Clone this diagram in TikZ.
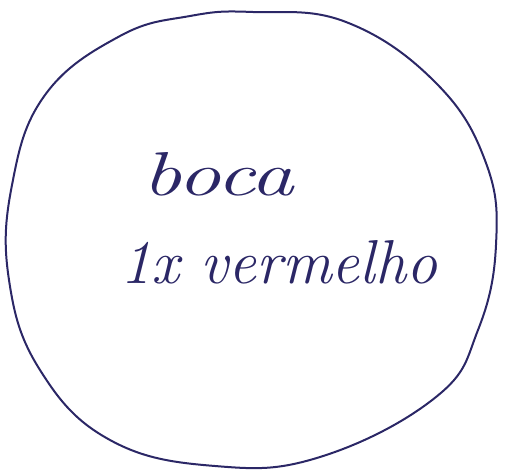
\documentclass[tikz,border=0pt]{standalone}
\begin{document}
\begin{tikzpicture}[x=1pt,y=-1pt,
  ink/.style={draw=inkc, line width=2pt},
  hand/.style={text=inkc, font=\fontsize{62}{62}\selectfont\itshape, inner sep=0pt, anchor=base west}]
\definecolor{inkc}{HTML}{2B2766}
\useasboundingbox (0,0) rectangle (506,475);
\draw[ink] plot[smooth cycle, tension=0.7] coordinates {
  (253,12) (346,22) (436,83) (486,163) (496,245) (478,330)
  (436,397) (320,457) (215,466) (110,440) (40,370) (9,280) (12,185)
  (45,95) (120,36) (190,16)};
\node[hand, xscale=1.4] (boca) at (142,195) {boca};
\node[hand] (verm) at (120,283) {1x vermelho};
\end{tikzpicture}
\end{document}
